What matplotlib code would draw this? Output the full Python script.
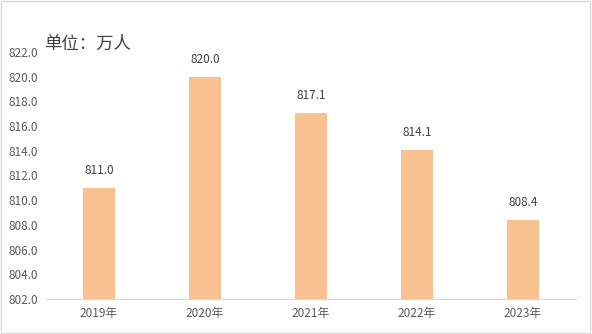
import matplotlib.pyplot as plt
from matplotlib.patches import Rectangle

plt.rcParams['font.family'] = ['Noto Sans CJK SC', 'DejaVu Sans']

years = ["2019年", "2020年", "2021年", "2022年", "2023年"]
values = [811.0, 820.0, 817.1, 814.1, 808.4]

fig = plt.figure(figsize=(5.92, 3.34), dpi=100)
ax = fig.add_axes([46 / 592, 1 - 299 / 334, 530 / 592, 247 / 334])

x = range(len(years))
ax.bar(x, [v - 802 for v in values], bottom=802, width=0.31, color="#F8C18F")
for i, v in enumerate(values):
    ax.text(i, v + 0.85, f"{v:.1f}", ha="center", va="bottom", fontsize=8.5, color="#404040")

ax.set_xlim(-0.5, len(years) - 0.5)
ax.set_ylim(802, 822)
ax.set_yticks([802 + 2 * k for k in range(11)])
ax.set_yticklabels([f"{802 + 2 * k:.1f}" for k in range(11)])
ax.set_xticks(list(x))
ax.set_xticklabels(years)
ax.tick_params(axis="both", length=0, labelsize=8.5, labelcolor="#595959")
ax.tick_params(axis="y", pad=6)
ax.tick_params(axis="x", pad=6)
for s in ["top", "right", "left"]:
    ax.spines[s].set_visible(False)
ax.spines["bottom"].set_color("#D9D9D9")

fig.text(44 / 592, 1 - 44 / 334, "单位：万人", fontsize=12.5, color="#404040", va="center")
fig.patches.append(Rectangle((0.002, 0.003), 0.995, 0.993, transform=fig.transFigure,
                             fill=False, edgecolor="#D9D9D9", linewidth=1))

fig.savefig("out.png", dpi=100)
